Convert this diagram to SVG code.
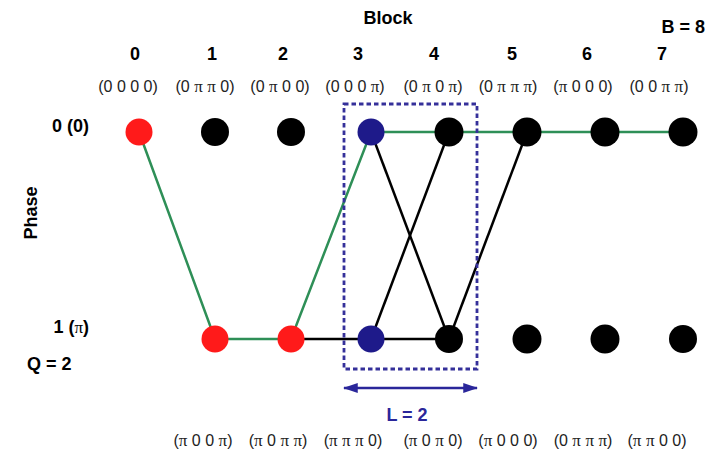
<svg xmlns="http://www.w3.org/2000/svg" width="715" height="450" viewBox="0 0 715 450">
  <defs>
    <style>
      .lbl { font-family: "Liberation Sans", Arial, sans-serif; font-weight: bold; font-size: 18px; fill: #000; }
      .tup { font-family: "Liberation Sans", Arial, sans-serif; font-size: 16px; fill: #222; }
      .pi { font-family: "Liberation Serif", "Times New Roman", serif; font-size: 17px; }
      .green { stroke: #2e8f57; stroke-width: 2.5; fill: none; }
      .black { stroke: #000; stroke-width: 2.5; fill: none; }
      .red { fill: #ff1a1a; }
      .blue { fill: #1e1a8a; }
      .dark { fill: #000; }
    </style>
    <marker id="head" viewBox="0 0 12 8" refX="11" refY="4" markerWidth="6" markerHeight="4" orient="auto-start-reverse" markerUnits="strokeWidth">
      <path d="M0,0 L12,4 L0,8 Z" fill="#2a269a"/>
    </marker>
  </defs>

  <rect width="715" height="450" fill="#ffffff"/>

  <!-- axis titles -->
  <text class="lbl" x="388" y="24" text-anchor="middle">Block</text>
  <text class="lbl" x="705" y="33" text-anchor="end">B = 8</text>
  <text class="lbl" x="0" y="0" text-anchor="middle" transform="translate(37,213) rotate(-90)">Phase</text>
  <text class="lbl" x="89" y="132" text-anchor="end">0 (0)</text>
  <text class="lbl" x="89" y="333" text-anchor="end">1 (<tspan class="pi" font-weight="normal">π</tspan>)</text>
  <text class="lbl" x="27" y="370">Q = 2</text>

  <!-- block indices -->
  <g class="lbl" text-anchor="middle">
    <text x="135" y="60">0</text>
    <text x="212" y="60">1</text>
    <text x="283" y="60">2</text>
    <text x="358" y="60">3</text>
    <text x="434" y="60">4</text>
    <text x="512" y="60">5</text>
    <text x="587" y="60">6</text>
    <text x="662" y="60">7</text>
  </g>

  <!-- phase vectors, phase 0 row -->
  <g class="tup" text-anchor="middle" xml:space="preserve">
    <text x="128" y="92">(0 0 0 0)</text>
    <text x="205" y="92">(0 <tspan class="pi">π</tspan> <tspan class="pi">π</tspan> 0)</text>
    <text x="280" y="92">(0 <tspan class="pi">π</tspan> 0 0)</text>
    <text x="355" y="92">(0 0 0 <tspan class="pi">π</tspan>)</text>
    <text x="433" y="92">(0 <tspan class="pi">π</tspan> 0 <tspan class="pi">π</tspan>)</text>
    <text x="508" y="92">(0 <tspan class="pi">π</tspan> <tspan class="pi">π</tspan> <tspan class="pi">π</tspan>)</text>
    <text x="583" y="92">(<tspan class="pi">π</tspan> 0 0 0)</text>
    <text x="659" y="92">(0 0 <tspan class="pi">π</tspan> <tspan class="pi">π</tspan>)</text>
  </g>

  <!-- phase vectors, phase π row -->
  <g class="tup" text-anchor="middle" xml:space="preserve">
    <text x="203" y="446">(<tspan class="pi">π</tspan> 0 0 <tspan class="pi">π</tspan>)</text>
    <text x="278" y="446">(<tspan class="pi">π</tspan> 0 <tspan class="pi">π</tspan> <tspan class="pi">π</tspan>)</text>
    <text x="353" y="446">(<tspan class="pi">π</tspan> <tspan class="pi">π</tspan> <tspan class="pi">π</tspan> 0)</text>
    <text x="433" y="446">(<tspan class="pi">π</tspan> 0 <tspan class="pi">π</tspan> 0)</text>
    <text x="508" y="446">(<tspan class="pi">π</tspan> 0 0 0)</text>
    <text x="583" y="446">(0 <tspan class="pi">π</tspan> <tspan class="pi">π</tspan> <tspan class="pi">π</tspan>)</text>
    <text x="657" y="446">(<tspan class="pi">π</tspan> <tspan class="pi">π</tspan> 0 0)</text>
  </g>

  <!-- trellis connectors -->
  <g id="connectors">
    <polyline class="black" points="291,339 371,339 449,339"/>
    <line class="black" x1="371" y1="339" x2="449" y2="132"/>
    <line class="black" x1="371" y1="132" x2="449" y2="339"/>
    <line class="black" x1="449" y1="339" x2="527" y2="132"/>
    <polyline class="green" points="139,132 215,339 291,339 371,132 449,132 527,132 605,132 683,132"/>
  </g>

  <!-- window of length L -->
  <g id="window">
    <rect x="344" y="104" width="133" height="265" fill="none" stroke="#35309a" stroke-width="2.8" stroke-dasharray="4.5 3"/>
    <line x1="344" y1="388" x2="477" y2="388" stroke="#2a269a" stroke-width="2.5" marker-start="url(#head)" marker-end="url(#head)"/>
    <text x="407" y="421" text-anchor="middle" font-family="'Liberation Sans', Arial, sans-serif" font-weight="bold" font-size="18" fill="#2a269a">L = 2</text>
  </g>

  <!-- phase 0 states -->
  <g id="n0-0"><circle class="red" cx="139" cy="132" r="13.5"/></g>
  <g id="n1-0"><circle class="dark" cx="215" cy="132" r="14"/></g>
  <g id="n2-0"><circle class="dark" cx="291" cy="132" r="14"/></g>
  <g id="n3-0"><circle class="blue" cx="371" cy="132" r="13.5"/></g>
  <g id="n4-0"><circle class="dark" cx="449" cy="132" r="14.5"/></g>
  <g id="n5-0"><circle class="dark" cx="527" cy="132" r="14.5"/></g>
  <g id="n6-0"><circle class="dark" cx="605" cy="132" r="14.5"/></g>
  <g id="n7-0"><circle class="dark" cx="683" cy="132" r="14.5"/></g>

  <!-- phase π states -->
  <g id="n1-1"><circle class="red" cx="215" cy="339" r="13.5"/></g>
  <g id="n2-1"><circle class="red" cx="291" cy="339" r="13.5"/></g>
  <g id="n3-1"><circle class="blue" cx="371" cy="339" r="13.5"/></g>
  <g id="n4-1"><circle class="dark" cx="449" cy="339" r="14"/></g>
  <g id="n5-1"><circle class="dark" cx="527" cy="339" r="14.5"/></g>
  <g id="n6-1"><circle class="dark" cx="605" cy="339" r="14.5"/></g>
  <g id="n7-1"><circle class="dark" cx="683" cy="339" r="14"/></g>
</svg>
